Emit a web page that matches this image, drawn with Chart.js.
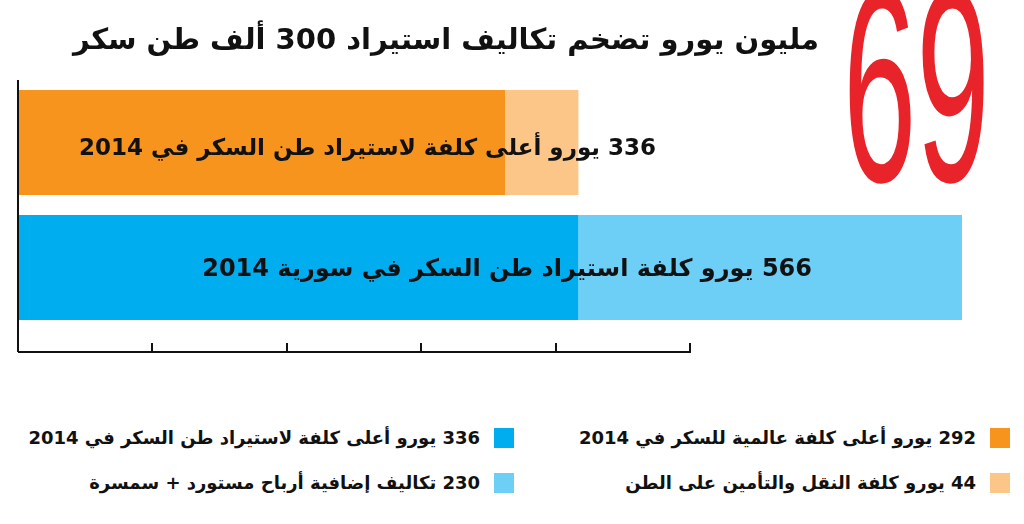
<!DOCTYPE html>
<html><head><meta charset="utf-8">
<script src="https://cdn.jsdelivr.net/npm/chart.js@4"></script>
<style>
body{margin:0;width:1024px;height:524px;background:#fff;font-family:"DejaVu Sans",sans-serif;overflow:hidden;position:relative}
#wrap{position:absolute;left:0;top:0;width:1024px;height:370px}
.t{position:absolute;direction:rtl;font-weight:bold;color:#111;white-space:nowrap}
.lg{position:absolute;direction:rtl;font-size:18px;font-weight:bold;color:#111;white-space:nowrap;display:flex;align-items:center;gap:14px}
.sw{width:20px;height:20px;display:inline-block}
</style></head><body>
<div id="wrap"><canvas id="c"></canvas></div>
<div class="t" style="right:205px;top:22px;font-size:29px">مليون يورو تضخم تكاليف استيراد 300 ألف طن سكر</div>
<div class="t" style="left:843px;top:-52px;font-size:275px;line-height:1;color:#e8232a;font-weight:normal;font-family:'Liberation Sans Narrow',sans-serif;transform:scaleX(0.48);transform-origin:left top;direction:ltr">69</div>
<div class="t" style="right:368px;top:134px;font-size:23px">336 يورو أعلى كلفة لاستيراد طن السكر في 2014</div>
<div class="t" style="right:212px;top:254px;font-size:24px">566 يورو كلفة استيراد طن السكر في سورية 2014</div>
<script>
// البيانات
const categories = ['أعلى كلفة', 'سورية'];
const baseValues = [292, 336];
const extraValues = [44, 230];
const baseColors = ['#f7941d', '#00aeef'];
const extraColors = ['#fdc689', '#6dcff6'];
const legendItems = [
    {text: '292 يورو أعلى كلفة عالمية للسكر في 2014', color: '#f7941d', right: 14, top: 427},
    {text: '44 يورو كلفة النقل والتأمين على الطن', color: '#fdc689', right: 14, top: 472},
    {text: '336 يورو أعلى كلفة لاستيراد طن السكر في 2014', color: '#00aeef', right: 510, top: 427},
    {text: '230 تكاليف إضافية أرباح مستورد + سمسرة', color: '#6dcff6', right: 510, top: 472}
];

legendItems.forEach(function(it) {
    const d = document.createElement('div');
    d.className = 'lg';
    d.style.right = it.right + 'px';
    d.style.top = it.top + 'px';
    d.innerHTML = '<span class="sw" style="background:' + it.color + '"></span><span>' + it.text + '</span>';
    document.body.appendChild(d);
});

// محاور مرسومة يدويا
const axisLines = {
    id: 'axisLines',
    afterDraw(chart) {
        const ctx = chart.ctx;
        ctx.save();
        ctx.strokeStyle = '#111';
        ctx.lineWidth = 2;
        ctx.beginPath();
        ctx.moveTo(18, 80); ctx.lineTo(18, 352);
        ctx.moveTo(18, 352); ctx.lineTo(691, 352);
        [152, 287, 421, 556, 690].forEach(function(x) {
            ctx.moveTo(x, 352); ctx.lineTo(x, 343);
        });
        ctx.stroke();
        ctx.restore();
    }
};

new Chart(document.getElementById('c'), {
    type: 'bar',
    data: {
        labels: categories,
        datasets: [
            {data: baseValues, backgroundColor: baseColors},
            {data: extraValues, backgroundColor: extraColors}
        ]
    },
    options: {
        indexAxis: 'y',
        responsive: true,
        maintainAspectRatio: false,
        animation: false,
        layout: {padding: {left: 18, right: 62, top: 80, bottom: 40}},
        datasets: {bar: {barPercentage: 0.84, categoryPercentage: 1}},
        plugins: {legend: {display: false}, tooltip: {enabled: false}},
        scales: {
            x: {stacked: true, min: 0, max: 566, display: false},
            y: {stacked: true, display: false}
        }
    },
    plugins: [axisLines]
});
</script>
</body></html>
